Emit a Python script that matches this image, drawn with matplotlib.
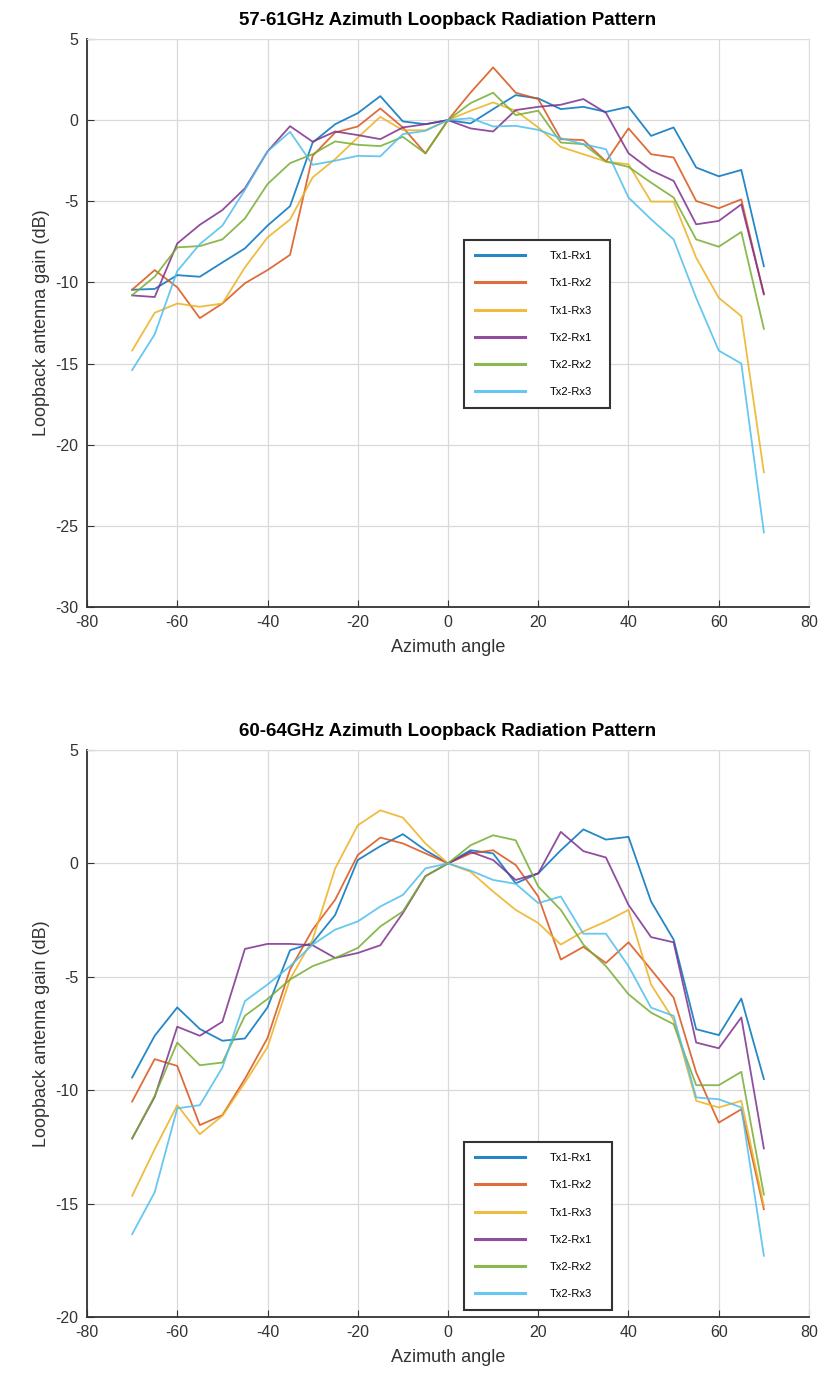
import matplotlib
matplotlib.use("Agg")
import matplotlib.pyplot as plt

angles = [-70, -65, -60, -55, -50, -45, -40, -35, -30, -25, -20, -15, -10, -5, 0,
          5, 10, 15, 20, 25, 30, 35, 40, 45, 50, 55, 60, 65, 70]
series_names = ["Tx1-Rx1", "Tx1-Rx2", "Tx1-Rx3", "Tx2-Rx1", "Tx2-Rx2", "Tx2-Rx3"]
series_colors = ["#0072BD", "#D95319", "#EDB120", "#7E2F8E", "#77AC30", "#4DBEEE"]

# 57-61 GHz
top_tx1_rx1 = [-10.45, -10.4, -9.55, -9.65, -8.77, -7.9, -6.5, -5.3, -1.38, -0.25, 0.43, 1.48, -0.08, -0.25, 0,
               -0.2, 0.68, 1.54, 1.34, 0.68, 0.82, 0.51, 0.82, -0.97, -0.45, -2.92, -3.46, -3.07, -9.0]
top_tx1_rx2 = [-10.45, -9.24, -10.3, -12.2, -11.3, -10.05, -9.24, -8.3, -2.2, -0.76, -0.39, 0.72, -0.45, -2.05, 0,
               1.7, 3.25, 1.69, 1.3, -1.17, -1.23, -2.55, -0.51, -2.1, -2.3, -4.98, -5.43, -4.88, -10.74]
top_tx1_rx3 = [-14.2, -11.87, -11.3, -11.5, -11.3, -9.07, -7.23, -6.12, -3.53, -2.4, -1.07, 0.2, -0.62, -0.62, 0,
               0.58, 1.09, 0.58, -0.45, -1.65, -2.1, -2.55, -2.72, -5.02, -5.02, -8.48, -10.95, -12.08, -21.7]
top_tx2_rx1 = [-10.8, -10.9, -7.6, -6.45, -5.54, -4.2, -1.93, -0.37, -1.33, -0.7, -0.92, -1.17, -0.45, -0.25, 0,
               -0.51, -0.7, 0.62, 0.82, 0.95, 1.3, 0.45, -2.04, -3.09, -3.74, -6.42, -6.21, -5.19, -10.7]
top_tx2_rx2 = [-10.78, -9.65, -7.84, -7.76, -7.35, -6.06, -3.94, -2.65, -2.1, -1.31, -1.52, -1.6, -1.03, -2.05, 0,
               1.05, 1.69, 0.31, 0.58, -1.38, -1.48, -2.55, -2.88, -3.85, -4.77, -7.35, -7.8, -6.89, -12.86]
top_tx2_rx3 = [-15.4, -13.2, -9.3, -7.64, -6.5, -4.3, -1.93, -0.72, -2.75, -2.5, -2.2, -2.23, -0.86, -0.66, 0,
               0.12, -0.39, -0.35, -0.6, -1.11, -1.48, -1.79, -4.77, -6.11, -7.35, -10.95, -14.2, -15.0, -25.4]

# 60-64 GHz
bot_tx1_rx1 = [-9.44, -7.6, -6.35, -7.3, -7.82, -7.72, -6.35, -3.83, -3.5, -2.27, 0.15, 0.76, 1.29, 0.58, 0,
               0.58, 0.44, -0.88, -0.44, 0.58, 1.5, 1.05, 1.17, -1.68, -3.36, -7.31, -7.57, -5.96, -9.51]
bot_tx1_rx2 = [-10.5, -8.63, -8.93, -11.54, -11.1, -9.5, -7.7, -4.68, -2.92, -1.6, 0.37, 1.14, 0.88, 0.44, 0,
               0.44, 0.58, -0.07, -1.46, -4.24, -3.68, -4.39, -3.48, -4.68, -5.92, -9.22, -11.43, -10.84, -15.25]
bot_tx1_rx3 = [-14.66, -12.6, -10.66, -11.94, -11.13, -9.66, -8.1, -5.1, -3.36, -0.22, 1.68, 2.34, 2.02, 0.88, 0,
               -0.37, -1.24, -2.05, -2.63, -3.58, -3.0, -2.56, -2.05, -5.34, -6.9, -10.47, -10.76, -10.47, -15.1]
bot_tx2_rx1 = [-12.13, -10.3, -7.2, -7.6, -6.98, -3.77, -3.55, -3.55, -3.61, -4.17, -3.95, -3.61, -2.19, -0.56, 0,
               0.51, 0.15, -0.73, -0.44, 1.39, 0.54, 0.26, -1.83, -3.25, -3.48, -7.9, -8.15, -6.79, -12.57]
bot_tx2_rx2 = [-12.13, -10.25, -7.9, -8.9, -8.78, -6.72, -5.98, -5.12, -4.53, -4.17, -3.73, -2.78, -2.12, -0.56, 0,
               0.8, 1.24, 1.02, -1.02, -2.05, -3.58, -4.53, -5.77, -6.58, -7.09, -9.78, -9.78, -9.19, -14.6]
bot_tx2_rx3 = [-16.35, -14.5, -10.8, -10.66, -9.0, -6.07, -5.34, -4.53, -3.58, -2.92, -2.56, -1.9, -1.39, -0.22, 0,
               -0.32, -0.73, -0.9, -1.75, -1.46, -3.1, -3.1, -4.53, -6.36, -6.72, -10.32, -10.4, -10.76, -17.3]

top_series = [top_tx1_rx1, top_tx1_rx2, top_tx1_rx3, top_tx2_rx1, top_tx2_rx2, top_tx2_rx3]
bot_series = [bot_tx1_rx1, bot_tx1_rx2, bot_tx1_rx3, bot_tx2_rx1, bot_tx2_rx2, bot_tx2_rx3]

titles = ["57-61GHz Azimuth Loopback Radiation Pattern", "60-64GHz Azimuth Loopback Radiation Pattern"]
xlabel = "Azimuth angle"
ylabel = "Loopback antenna gain (dB)"
xticks = [-80, -60, -40, -20, 0, 20, 40, 60, 80]
top_yticks = [5, 0, -5, -10, -15, -20, -25, -30]
bot_yticks = [5, 0, -5, -10, -15, -20]

plt.rcParams['font.family'] = ['Liberation Sans', 'DejaVu Sans']
plt.rcParams['axes.unicode_minus'] = False

W, H = 820, 1390
fig = plt.figure(figsize=(W / 100, H / 100), dpi=100)

AX_L, AX_R = 87, 809

def add_axes(left, top, right, bottom):
    return fig.add_axes([left / W, 1 - bottom / H, (right - left) / W, (bottom - top) / H])

ax1 = add_axes(AX_L, 39, AX_R, 607)
ax2 = add_axes(AX_L, 750, AX_R, 1317)

configs = [
    (ax1, top_series, (-30, 5), top_yticks, titles[0], (464, 240, 610, 405), 39, 607),
    (ax2, bot_series, (-20, 5), bot_yticks, titles[1], (464, 1142, 612, 1305), 750, 1317),
]

for ax, series, ylim, yticks, title, lg, ax_top, ax_bot in configs:
    for name, vals, col in zip(series_names, series, series_colors):
        ax.plot(angles, vals, color=col, lw=1.3, label=name, alpha=0.85)
    ax.set_xlim(-80, 80)
    ax.set_ylim(*ylim)
    ax.set_xticks(xticks)
    ax.set_yticks(yticks)
    ax.grid(True, color="#d9d9d9", lw=0.9)
    ax.set_axisbelow(True)
    ax.tick_params(direction="in", length=5, labelsize=11.5, colors="#333333", pad=6)
    for s in ["top", "right"]:
        ax.spines[s].set_color("#dddddd")
    for s in ["left", "bottom"]:
        ax.spines[s].set_color("#333333")
        ax.spines[s].set_linewidth(1.3)
    ax.set_title(title, fontsize=13.5, fontweight="bold", pad=10)
    ax.set_xlabel(xlabel, fontsize=13, color="#333333", labelpad=6)
    ax.set_ylabel(ylabel, fontsize=13, color="#333333", labelpad=4)
    l, t, r, b = lg
    x0 = (l - AX_L) / (AX_R - AX_L)
    x1 = (r - AX_L) / (AX_R - AX_L)
    y1 = 1 - (t - ax_top) / (ax_bot - ax_top)
    y0 = 1 - (b - ax_top) / (ax_bot - ax_top)
    leg = ax.legend(loc="upper left", bbox_to_anchor=(x0, y0, x1 - x0, y1 - y0),
                    mode="expand", fontsize=8, handlelength=4.5, handletextpad=2.2,
                    labelspacing=1.55, borderpad=1.0, fancybox=False, framealpha=1,
                    edgecolor="#333333", borderaxespad=0)
    leg.get_frame().set_linewidth(1.5)
    for h in leg.get_lines():
        h.set_linewidth(2.2)

fig.savefig("out.png", dpi=100)
